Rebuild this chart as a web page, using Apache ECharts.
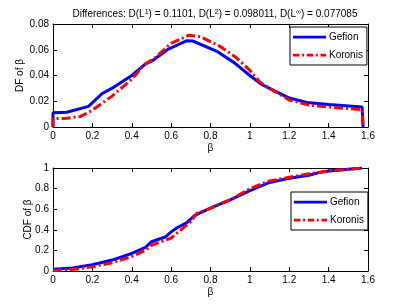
<!DOCTYPE html>
<html><head><meta charset="utf-8">
<script src="https://cdn.jsdelivr.net/npm/echarts@6/dist/echarts.min.js"></script>
<style>html,body{margin:0;padding:0;background:#fff}#c{width:407px;height:306px}</style>
</head><body><div id="c"></div>
<script>
const seriesNames = ['Gefion', 'Koronis'];
const xTicks = ['0','0.2','0.4','0.6','0.8','1','1.2','1.4','1.6'];
const dfTicks = ['0','0.02','0.04','0.06','0.08'];
const cdfTicks = ['0','0.2','0.4','0.6','0.8','1'];

const gefionDF = [[0,0],[0,0.011],[0.07,0.0115],[0.18,0.016],[0.25,0.026],[0.31,0.031],[0.4,0.040],[0.47,0.049],[0.51,0.052],[0.58,0.060],[0.68,0.067],[0.71,0.0668],[0.83,0.059],[0.92,0.050],[1.0,0.040],[1.06,0.033],[1.1,0.030],[1.2,0.0225],[1.29,0.019],[1.4,0.0175],[1.57,0.0155],[1.575,0]];
const koronisDF = [[0,0],[0,0.0065],[0.07,0.0068],[0.14,0.0082],[0.2,0.013],[0.3,0.024],[0.4,0.037],[0.46,0.048],[0.52,0.054],[0.6,0.065],[0.69,0.0713],[0.75,0.070],[0.85,0.0625],[0.93,0.054],[1.0,0.044],[1.05,0.035],[1.1,0.030],[1.2,0.021],[1.3,0.017],[1.4,0.0155],[1.57,0.0135],[1.575,0]];
const gefionCDF = [[0,0.016],[0.1,0.03],[0.2,0.06],[0.3,0.106],[0.4,0.17],[0.47,0.23],[0.5,0.284],[0.57,0.33],[0.6,0.38],[0.63,0.42],[0.68,0.47],[0.72,0.54],[0.8,0.61],[0.86,0.66],[0.9,0.69],[1.0,0.78],[1.1,0.86],[1.2,0.9],[1.3,0.93],[1.35,0.955],[1.4,0.97],[1.57,1.0]];
const koronisCDF = [[0,0.005],[0.1,0.015],[0.2,0.04],[0.3,0.08],[0.4,0.14],[0.47,0.2],[0.5,0.25],[0.6,0.32],[0.65,0.4],[0.7,0.48],[0.73,0.56],[0.8,0.61],[0.9,0.69],[1.0,0.8],[1.1,0.875],[1.2,0.91],[1.3,0.945],[1.4,0.97],[1.57,1.0]];

const FONT = 'Liberation Sans';
const txt = {fontFamily: FONT, fontSize: 10, color: '#000'};

function xAxes(gi) {
  const base = {type:'value', gridIndex: gi, min:0, max:1.6, interval:0.2,
    axisLine:{show:true, onZero:false, lineStyle:{color:'#000', width:1}},
    axisTick:{show:true, inside:true, length:4, lineStyle:{color:'#000'}},
    splitLine:{show:false}};
  return [
    Object.assign({}, base, {position:'bottom', name:'β', nameLocation:'middle', nameGap:16,
      nameMoveOverlap:false, nameTextStyle: txt,
      axisLabel:{...txt, margin:4, formatter: v => xTicks[Math.round(v/0.2)]}}),
    Object.assign({}, base, {position:'top', axisLabel:{show:false}})
  ];
}
function yAxes(gi, max, interval, ticks, name, gap) {
  const base = {type:'value', gridIndex: gi, min:0, max:max, interval:interval,
    axisLine:{show:true, onZero:false, lineStyle:{color:'#000', width:1}},
    axisTick:{show:true, inside:true, length:4, lineStyle:{color:'#000'}},
    splitLine:{show:false}};
  return [
    Object.assign({}, base, {position:'left', name:name, nameLocation:'middle', nameGap:gap,
      nameMoveOverlap:false, nameTextStyle: txt,
      axisLabel:{...txt, margin:4, formatter: v => ticks[Math.round(v/interval)]}}),
    Object.assign({}, base, {position:'right', axisLabel:{show:false}})
  ];
}

const blueStyle = {color:'#0000ff', width:3, type:'solid'};
const redStyle = {color:'#ff0000', width:3, type:[9,3,2,3]};

function line(name, data, xi, yi, style) {
  return {type:'line', name, data, xAxisIndex:xi, yAxisIndex:yi, showSymbol:false, symbol:'none',
    lineStyle: style, itemStyle:{color: style.color}, animation:false};
}

const solidIcon = 'path://M0,0h36v3h-36z';
const dashIcon = 'path://M0,0h7v3h-7z M10,0h2v3h-2z M15,0h7v3h-7z M25,0h2v3h-2z M30,0h6v3h-6z';
function legendAt(left, top) {
  return {data:[{name:seriesNames[0], icon:solidIcon},{name:seriesNames[1], icon:dashIcon}],
    orient:'vertical', left:left, top:top,
    itemWidth:33, itemHeight:3, itemGap:8, padding:[5,4,5,3], borderColor:'#000', borderWidth:1,
    backgroundColor:'#fff', textStyle:{...txt, padding:[0,0,0,-2]}, selectedMode:false};
}

const chart = echarts.init(document.getElementById('c'), null, {renderer:'canvas'});
chart.setOption({
  animation:false,
  backgroundColor:'#fff',
  title:{left:210, top:4, textAlign:'center',
    text:'Differences: D(L{s|1}) = 0.1101, D(L{s|2}) = 0.098011, D(L{s|∞}) = 0.077085',
    textStyle:{...txt, fontWeight:'normal', rich:{s:{fontFamily:FONT, fontSize:7, color:'#000', verticalAlign:'top', padding:[0,0,4,0]}}}},
  grid:[
    {left:53, right:39, top:24, height:103},
    {left:53, right:39, top:168, height:103}
  ],
  xAxis:[...xAxes(0), ...xAxes(1)],
  yAxis:[...yAxes(0, 0.08, 0.02, dfTicks, 'DF of β', 28), ...yAxes(1, 1, 0.2, cdfTicks, 'CDF of β', 20)],
  legend:[legendAt(290, 27), legendAt(291, 192)],
  series:[
    line(seriesNames[0], gefionDF, 0, 0, blueStyle),
    line(seriesNames[1], koronisDF, 0, 0, redStyle),
    line(seriesNames[0], gefionCDF, 2, 2, blueStyle),
    line(seriesNames[1], koronisCDF, 2, 2, redStyle)
  ]
});
</script></body></html>
